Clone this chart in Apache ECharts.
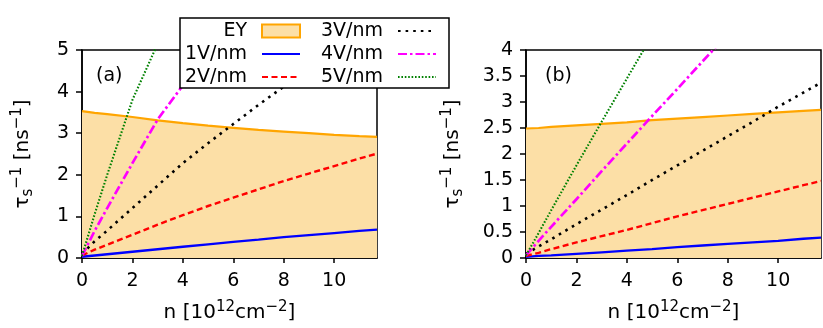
<!DOCTYPE html>
<html><head><meta charset="utf-8">
<script src="https://cdn.jsdelivr.net/npm/echarts@6/dist/echarts.min.js"></script>
<style>html,body{margin:0;padding:0;background:#fff}#c{width:823px;height:328px}</style>
</head><body><div id="c"></div>
<script>
// carrier density n [10^12 cm^-2]
const nVals = [0, 0.5, 1, 2, 3, 4, 5, 6, 7, 8, 9, 10, 11, 11.7];
const xTicks = [0, 2, 4, 6, 8, 10];
const seriesNames = ['EY', '1V/nm', '2V/nm', '3V/nm', '4V/nm', '5V/nm'];

// panel (a)
const aEY = [3.53, 3.49, 3.46, 3.39, 3.31, 3.24, 3.18, 3.13, 3.08, 3.04, 3.00, 2.96, 2.93, 2.91];
const a1V = [0.03, 0.06, 0.09, 0.15, 0.21, 0.27, 0.33, 0.39, 0.44, 0.50, 0.55, 0.60, 0.65, 0.68];
const a2V = [0.06, 0.20, 0.32, 0.56, 0.80, 1.03, 1.25, 1.45, 1.65, 1.85, 2.03, 2.21, 2.39, 2.51];
const a3V = [0.10, 0.40, 0.66, 1.20, 1.74, 2.28, 2.76, 3.22, 3.68, 4.12, 4.56, 4.98, 5.40, 5.70];
const a4V = [0.05, 0.65, 1.20, 2.28, 3.33, 4.15, 5.05, null, null, null, null, null, null, null];
const a5V = [0.05, 1.05, 2.00, 3.80, 5.15, null, null, null, null, null, null, null, null, null];

// panel (b)
const bEY = [2.49, 2.50, 2.52, 2.55, 2.58, 2.61, 2.65, 2.68, 2.71, 2.74, 2.77, 2.80, 2.83, 2.85];
const b1V = [0.02, 0.04, 0.05, 0.08, 0.11, 0.14, 0.17, 0.21, 0.24, 0.27, 0.30, 0.33, 0.37, 0.39];
const b2V = [0.04, 0.10, 0.17, 0.30, 0.42, 0.54, 0.67, 0.80, 0.92, 1.04, 1.16, 1.28, 1.40, 1.48];
const b3V = [0.08, 0.22, 0.36, 0.65, 0.93, 1.21, 1.50, 1.78, 2.06, 2.34, 2.62, 2.91, 3.18, 3.37];
const b4V = [0.05, 0.33, 0.60, 1.13, 1.67, 2.20, 2.73, 3.25, 3.78, 4.30, null, null, null, null];
const b5V = [0.05, 0.48, 0.92, 1.78, 2.62, 3.45, 4.28, null, null, null, null, null, null, null];

const FONT = 'DejaVu Sans';
const FS = 19;

function pairs(vals) {
  const out = [];
  for (let i = 0; i < nVals.length; i++) if (vals[i] != null) out.push([nVals[i], vals[i]]);
  return out;
}

const styles = [
  { color: '#FFA500', width: 2.2, type: 'solid' },
  { color: '#0000FF', width: 2.3, type: 'solid' },
  { color: '#FF0000', width: 2.4, type: [6, 3.5] },
  { color: '#000000', width: 2.6, type: [2.6, 5] },
  { color: '#FF00FF', width: 2.7, type: [9, 3, 2.5, 3] },
  { color: '#008000', width: 2.1, type: [1.6, 1.8] }
];

function makeSeries(gi, arrs) {
  return arrs.map((vals, k) => {
    const s = {
      name: seriesNames[k], type: 'line', xAxisIndex: gi, yAxisIndex: gi,
      data: pairs(vals), showSymbol: false, symbol: 'circle', smooth: false,
      silent: true, animation: false, clip: true,
      lineStyle: { color: styles[k].color, width: styles[k].width, type: styles[k].type },
      itemStyle: { color: styles[k].color },
      z: 2 + k
    };
    if (k === 0) s.areaStyle = { color: '#FCDFA6', opacity: 1 };
    return s;
  });
}

const richName = {
  b: { fontFamily: FONT, fontSize: 20, lineHeight: 26, color: '#000' },
  sup: { fontFamily: FONT, fontSize: 15, lineHeight: 15, verticalAlign: 'top', color: '#000' },
  sub: { fontFamily: FONT, fontSize: 15, lineHeight: 15, verticalAlign: 'bottom', color: '#000' }
};
const xName = '{b|n [10}{sup|12}{b|cm}{sup|\u22122}{b|]}';
const yName = '{b|\u03c4}{sub|s}{sup|\u22121}{b| [ns}{sup|\u22121}{b|]}';

function xAxis(gi) {
  return {
    type: 'value', gridIndex: gi, min: 0, max: 11.7, interval: 2,
    name: xName, nameLocation: 'middle', nameGap: 42,
    nameTextStyle: { rich: richName },
    axisLine: { show: true, onZero: false, lineStyle: { color: '#000', width: 1.5 } },
    axisTick: { show: true, length: 5, customValues: xTicks, lineStyle: { color: '#000', width: 1.5 } },
    axisLabel: { customValues: xTicks, margin: 14, color: '#000', fontFamily: FONT, fontSize: FS },
    splitLine: { show: false }
  };
}
function yAxis(gi, max, interval, gap) {
  return {
    type: 'value', gridIndex: gi, min: 0, max: max, interval: interval,
    name: yName, nameLocation: 'middle', nameGap: gap, nameRotate: 90,
    nameTextStyle: { rich: richName },
    axisLine: { show: true, onZero: false, lineStyle: { color: '#000', width: 1.5 } },
    axisTick: { show: true, length: 6, lineStyle: { color: '#000', width: 1.5 } },
    axisLabel: { margin: 13, color: '#000', fontFamily: FONT, fontSize: FS },
    splitLine: { show: false }
  };
}

const legendCommon = {
  orient: 'vertical', align: 'right', top: 21, itemGap: 3, padding: 0,
  itemWidth: 38, itemHeight: 13, selectedMode: false, z: 12,
  itemStyle: { opacity: 0 },
  textStyle: { fontFamily: FONT, fontSize: FS, color: '#000', width: 70, align: 'right', lineHeight: 20, padding: [0, 10, 0, 0] }
};

const option = {
  backgroundColor: '#fff',
  animation: false,
  grid: [
    { left: 82, top: 50, width: 295, height: 209, show: true, borderColor: '#000', borderWidth: 1.5, backgroundColor: 'transparent' },
    { left: 526, top: 50, width: 295, height: 209, show: true, borderColor: '#000', borderWidth: 1.5, backgroundColor: 'transparent' }
  ],
  xAxis: [xAxis(0), xAxis(1)],
  yAxis: [yAxis(0, 5, 1, 46), yAxis(1, 4, 0.5, 60)],
  legend: [
    Object.assign({}, legendCommon, {
      left: 177,
      data: [{ name: 'EY', icon: 'rect', itemStyle: { color: '#FCDFA6', borderColor: '#FFA500', borderWidth: 2, opacity: 1 } }, '1V/nm', '2V/nm']
    }),
    Object.assign({}, legendCommon, {
      left: 313,
      data: ['3V/nm', '4V/nm', '5V/nm']
    })
  ],
  graphic: [
    { type: 'rect', z: 10, shape: { x: 180, y: 18, width: 269, height: 70 },
      style: { fill: '#fff', stroke: '#000', lineWidth: 1.5 } },
    { type: 'text', z: 10, x: 96, y: 76, style: { text: '(a)', fontFamily: FONT, fontSize: FS, fill: '#000', verticalAlign: 'middle' } },
    { type: 'text', z: 10, x: 545, y: 76, style: { text: '(b)', fontFamily: FONT, fontSize: FS, fill: '#000', verticalAlign: 'middle' } }
  ],
  series: makeSeries(0, [aEY, a1V, a2V, a3V, a4V, a5V]).concat(makeSeries(1, [bEY, b1V, b2V, b3V, b4V, b5V]))
};

const chart = echarts.init(document.getElementById('c'), null, { renderer: 'canvas' });
chart.setOption(option);
</script></body></html>
